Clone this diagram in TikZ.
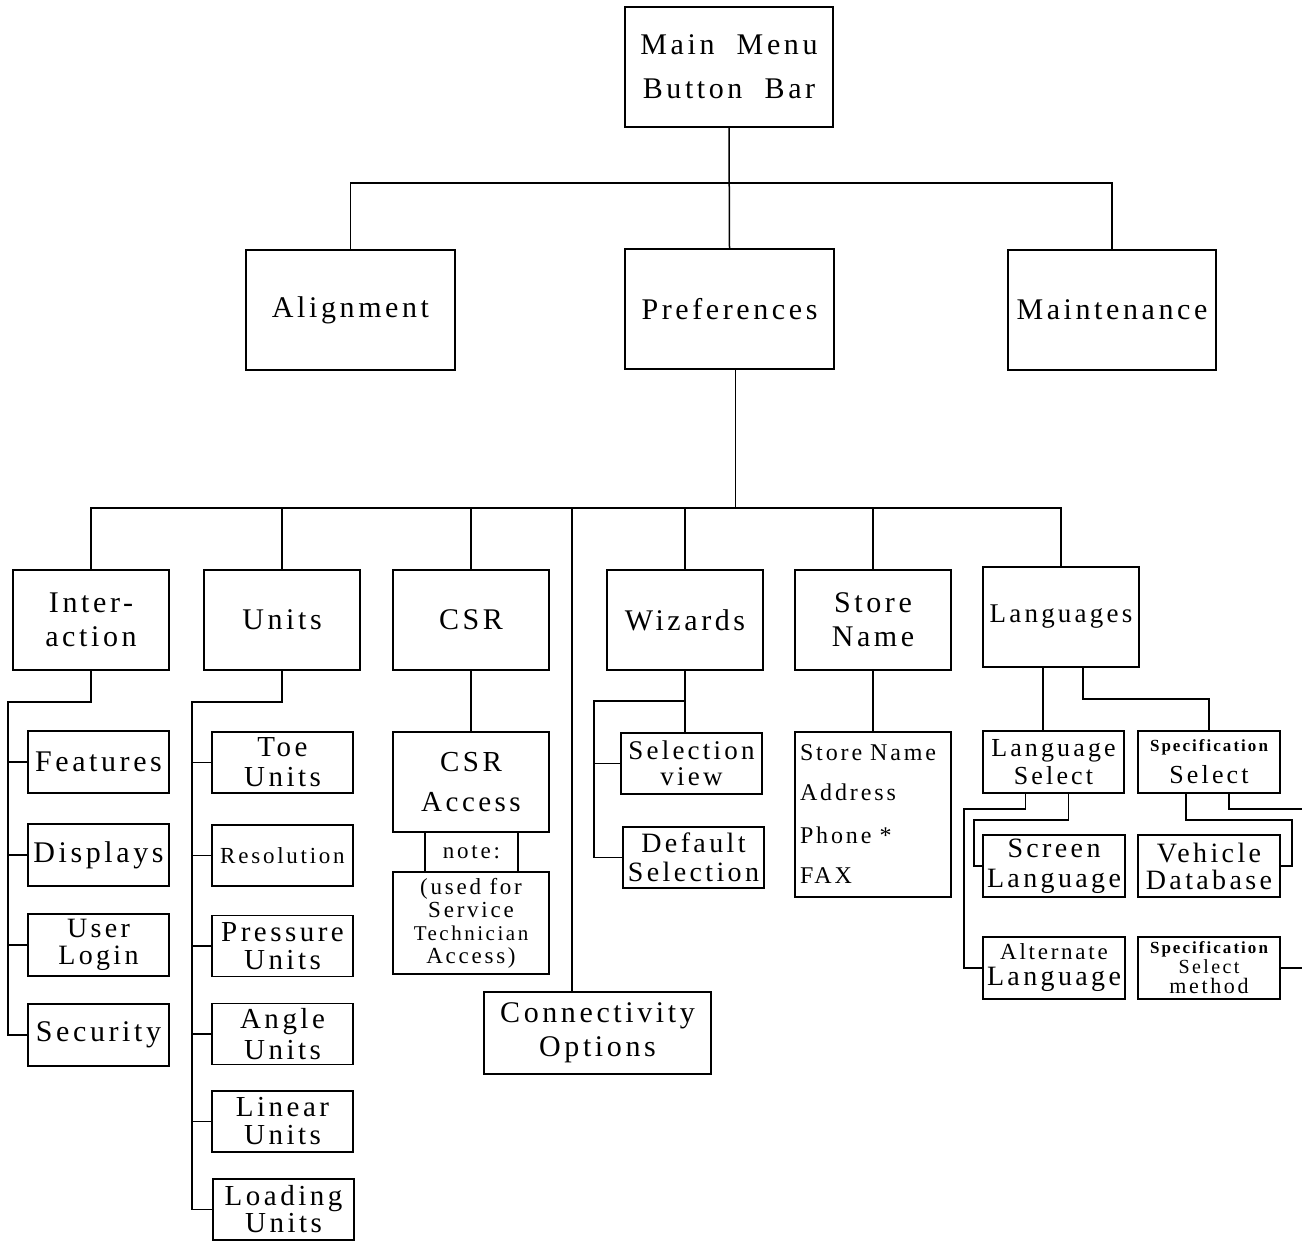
\documentclass[tikz,border=0pt]{standalone}
\usepackage{fontspec}
\setmainfont{Liberation Serif}[LetterSpace=12]
\newcommand\fsz[2]{\fontsize{#1pt}{#2pt}\selectfont}
\begin{document}
\begin{tikzpicture}[x=1pt,y=-1pt,
  box/.style={draw, line width=1.7pt, rectangle, inner sep=0pt, align=center, font=\fsz{30}{34}},
  conn/.style={line width=1.5pt}]
\useasboundingbox (0,0) rectangle (1302,1241);
% top levels
\node[box, minimum width=208pt, minimum height=120pt, font=\fsz{30}{44}] (main) at (729,67) {Main\ \ Menu\\Button\ \ Bar};
\node[box, minimum width=209pt, minimum height=120pt] (align) at (350.5,310) {Alignment};
\node[box, minimum width=209pt, minimum height=120pt] (pref) at (729.5,309) {Preferences};
\node[box, minimum width=208pt, minimum height=120pt] (maint) at (1112,310) {Maintenance};
% second row
\node[box, minimum width=156pt, minimum height=100pt] (inter) at (91,620) {Inter-\\action};
\node[box, minimum width=156pt, minimum height=100pt] (units) at (282,620) {Units};
\node[box, minimum width=156pt, minimum height=100pt] (csr) at (471,620) {CSR};
\node[box, minimum width=156pt, minimum height=100pt] (wiz) at (685,620) {Wizards};
\node[box, minimum width=156pt, minimum height=100pt] (storen) at (873,620) {Store\\Name};
\node[box, minimum width=156pt, minimum height=100pt, font=\fsz{27}{30}] (lang) at (1061,617) {Languages};
\node[box, minimum width=227pt, minimum height=82pt] (connopt) at (597.5,1033) {Connectivity\\Options};
% interaction children
\node[box, minimum width=141pt, minimum height=62pt] (feat) at (98.5,762) {Features};
\node[box, minimum width=141pt, minimum height=62pt] (disp) at (98.5,855) {Displays};
\node[box, minimum width=141pt, minimum height=62pt, font=\fsz{28}{27}] (user) at (98.5,945) {User\\Login};
\node[box, minimum width=141pt, minimum height=62pt] (secur) at (98.5,1035) {Security};
% units children
\node[box, minimum width=141pt, minimum height=61pt, font=\fsz{29}{30}] (toe) at (282.5,762.5) {Toe\\Units};
\node[box, minimum width=141pt, minimum height=61pt, font=\fsz{23}{26}] (resol) at (282.5,855.5) {Resolution};
\node[box, minimum width=141pt, minimum height=61pt, font=\fsz{29}{28}] (press) at (282.5,946) {Pressure\\Units};
\node[box, minimum width=141pt, minimum height=61pt, font=\fsz{29}{31}] (angle) at (282.5,1034) {Angle\\Units};
\node[box, minimum width=141pt, minimum height=61pt, font=\fsz{29}{28}] (linear) at (282.5,1121.5) {Linear\\Units};
\node[box, minimum width=141pt, minimum height=61pt, font=\fsz{29}{27}] (load) at (283.5,1209.5) {Loading\\Units};
% CSR
\node[box, minimum width=156pt, minimum height=100pt, font=\fsz{29}{40}] (csra) at (471,782) {CSR\\Access};
\node[box, minimum width=93pt, minimum height=40pt, font=\fsz{23}{26}] (note) at (471.5,852) {note:};
\node[box, minimum width=156pt, minimum height=102pt, font=\fsz{23}{23}] (noteb) at (471,923) {(used for\\Service\\{\fsz{21}{23}Technician}\\Access)};
% wizards
\node[box, minimum width=141pt, minimum height=61pt, font=\fsz{27}{26}] (selv) at (691.5,763.5) {Selection\\view};
\node[box, minimum width=141pt, minimum height=61pt, font=\fsz{28}{29}] (defs) at (693.5,857.5) {Default\\Selection};
% store
\node[box, minimum width=156pt, minimum height=165pt, font=\fsz{24}{40}, align=left, text width=146pt] (sinfo) at (873,814.5) {Store\ Name\\Address\\[3pt] Phone *\\FAX};
% languages
\node[box, minimum width=141pt, minimum height=62pt, font=\fsz{26}{28}] (langsel) at (1053.5,762) {Language\\Select};
\node[box, minimum width=142pt, minimum height=62pt, font=\fsz{26}{32}] (specsel) at (1209,762) {{\fsz{17}{20}\bfseries Specification}\\Select};
\node[box, minimum width=142pt, minimum height=62pt, font=\fsz{28}{30}] (screen) at (1054,866) {Screen\\Language};
\node[box, minimum width=142pt, minimum height=62pt, font=\fsz{28}{27}] (vehdb) at (1209,866) {Vehicle\\Database};
\node[box, minimum width=142pt, minimum height=62pt, font=\fsz{28}{26}] (alt) at (1054,968) {{\fsz{23}{26}Alternate}\\Language};
\node[box, minimum width=142pt, minimum height=62pt, font=\fsz{20}{20}] (specm) at (1209,968) {{\fsz{17}{18}\bfseries Specification}\\Select\\{\fsz{22}{20}method}};
% coordinates
\coordinate (bus1) at (0,183);
\coordinate (bus2) at (0,508);
\coordinate (ispine) at (8,702);
\coordinate (uspine) at (192,702);
\coordinate (wspine) at (594,701);
\coordinate (edge) at (1302,0);
\coordinate (ltap1) at (964,809);
\coordinate (ltap2) at (974,820);
\coordinate (stap1) at (1292,820);
\coordinate (stap2) at (1302,809);
\coordinate (rtap) at (0,699);
% top connectors
\draw[conn] (main.south) -- (pref.north);
\draw[conn] (align.north) |- (bus1 -| maint.north) -- (maint.north);
% preferences bus
\draw[conn] ([xshift=6pt]pref.south) -- ([xshift=6pt]pref.south |- bus2);
\draw[conn] (inter.north) |- (bus2 -| lang.north) -- (lang.north);
\foreach \n in {units,csr,wiz,storen} \draw[conn] (\n.north) -- (\n.north |- bus2);
\draw[conn] ([xshift=-25.5pt]connopt.north) -- ([xshift=-25.5pt]connopt.north |- bus2);
% interaction
\draw[conn] (inter.south) |- (ispine) |- (secur.west);
\foreach \n in {feat,disp,user} \draw[conn] (\n.west) -- (\n.west -| ispine);
% units
\draw[conn] (units.south) |- (uspine) |- (load.west);
\foreach \n in {toe,resol,press,angle,linear} \draw[conn] (\n.west) -- (\n.west -| uspine);
% csr
\draw[conn] (csr.south) -- (csra.north);
% wizards
\draw[conn] (wiz.south) -- (wiz.south |- selv.north);
\draw[conn] (wiz.south |- wspine) -- (wspine) |- (defs.west);
\draw[conn] (selv.west) -- (selv.west -| wspine);
% store
\draw[conn] (storen.south) -- (sinfo.north);
% languages
\draw[conn] ([xshift=-18pt]lang.south) -- ([xshift=-18pt]lang.south |- langsel.north);
\draw[conn] ([xshift=22pt]lang.south) |- (rtap -| specsel.north) -- (specsel.north);
\draw[conn] ([xshift=-28pt]langsel.south) |- (ltap1) |- (alt.west);
\draw[conn] ([xshift=15pt]langsel.south) |- (ltap2) |- (screen.west);
\draw[conn] ([xshift=-23pt]specsel.south) |- (stap1) |- (vehdb.east);
\draw[conn] ([xshift=20pt]specsel.south) |- (stap2);
\draw[conn] (specm.east) -- (specm.east -| edge);
\end{tikzpicture}
\end{document}
